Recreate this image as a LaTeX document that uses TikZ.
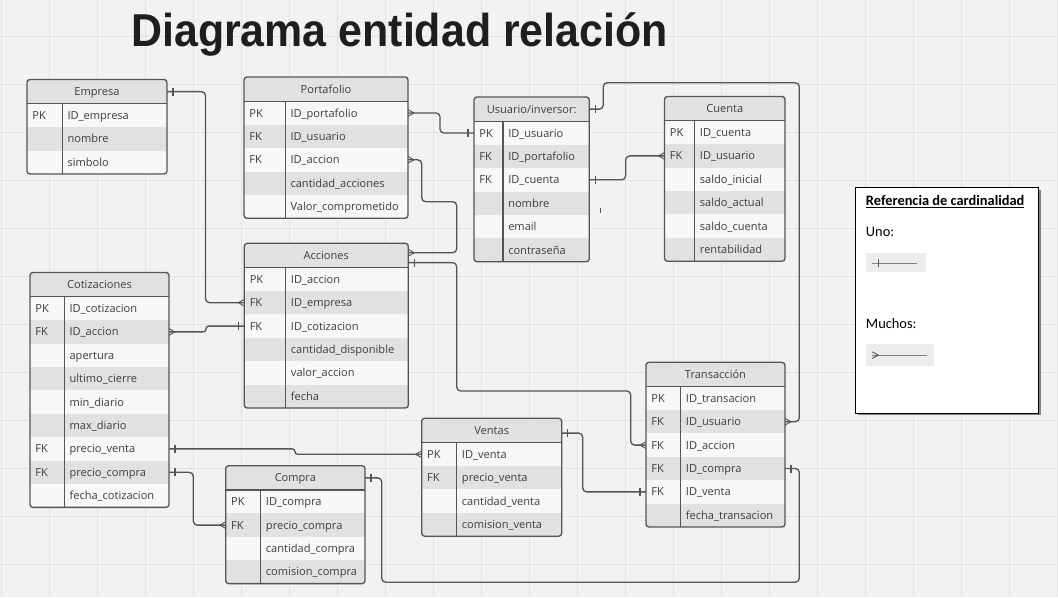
\documentclass[tikz,border=0pt]{standalone}
\usepackage{fontspec}
\setmainfont{Open Sans}
\newfontfamily\legendfont{Carlito}
\newfontfamily\titlefont{Liberation Sans}
\usetikzlibrary{calc,positioning,shadows,decorations.markings}
\definecolor{paper}{RGB}{242,242,242}
\definecolor{gridline}{RGB}{226,226,226}
\definecolor{rowlight}{RGB}{247,247,247}
\definecolor{rowdark}{RGB}{225,225,225}
\definecolor{erdraw}{RGB}{85,85,85}
\definecolor{ertext}{RGB}{62,62,62}
\definecolor{samplebg}{RGB}{236,236,236}
\tikzset{
  erhead/.style ={rectangle, fill=rowdark, inner sep=0pt, outer sep=0pt, text height=6pt, text depth=0pt,
                  minimum height=18.2pt, text=ertext, font=\fontsize{8.3}{10}\selectfont},
  errow/.style  ={rectangle, inner sep=0pt, outer sep=0pt, minimum height=17.55pt},
  erkey/.style  ={anchor=west, inner sep=0pt, text height=6pt, text depth=0pt, text=ertext,
                  font=\fontsize{8.3}{10}\selectfont},
  erfield/.style={erkey},
  erframe/.style={draw=erdraw, line width=1pt, rounded corners=2.2pt},
  erlink/.style ={draw=erdraw, line width=1pt, rounded corners=3pt},
  onestart/.style ={postaction={decorate, decoration={markings, mark=at position 4.5pt with
                    {\draw[erdraw, line width=0.9pt, sharp corners] (0,-3pt) -- (0,3pt);}}}},
  oneend/.style   ={postaction={decorate, decoration={markings, mark=at position -4.5pt with
                    {\draw[erdraw, line width=0.9pt, sharp corners] (0,-3pt) -- (0,3pt);}}}},
  manystart/.style={postaction={decorate, decoration={markings, mark=at position 0pt with
                    {\draw[erdraw, line width=0.7pt, sharp corners] (0,2.5pt) -- (4.5pt,0) -- (0,-2.5pt);}}}},
  manyend/.style  ={postaction={decorate, decoration={markings, mark=at position -0.01pt with
                    {\draw[erdraw, line width=0.7pt, sharp corners] (0,2.5pt) -- (-4.5pt,0) -- (0,-2.5pt);}}}},
  legendbox/.style={rectangle, fill=white, draw=black, line width=0.8pt, inner sep=0pt,
                    drop shadow={shadow xshift=1.3pt, shadow yshift=-1.3pt, fill=black, opacity=0.45}},
  legendtext/.style={anchor=west, inner sep=0pt, font=\legendfont\fontsize{10.8}{13}\selectfont},
  samplebox/.style={rectangle, fill=samplebg, inner sep=0pt, anchor=north west},
  samplelink/.style={draw=gray, line width=0.8pt},
}
% #1 name, #2 left, #3 top, #4 width, #5 key column, #6 title, #7 rows
\newcommand{\ertable}[7]{%
  \foreach \k/\f [count=\n] in {#7} {\xdef\ernrows{\n}}
  \pgfmathsetmacro{\erbottom}{#3+24.3+23.4*\ernrows}
  \begin{scope}
    \clip[rounded corners=2.2pt] (#2,#3) rectangle (#2+#4,\erbottom);
    \node[erhead, minimum width=#4*0.75pt, anchor=north west] (#1-h) at (#2,#3) {#6};
    \foreach \k/\f [count=\i] in {#7} {
      \pgfmathsetmacro{\ery}{#3+24.3+23.4*(\i-1)}
      \ifodd\i \def\erfill{rowlight}\else\def\erfill{rowdark}\fi
      \node[errow, fill=\erfill, minimum width=#4*0.75pt, anchor=north west] (#1-\i) at (#2,\ery) {};
      \node[erkey] at ([xshift=3.9pt]#1-\i.west) {\k};
      \node[erfield] at (#2+#5+5,\ery+11.7) {\f};
    }
  \end{scope}
  \draw[erframe] (#2,#3) rectangle (#2+#4,\erbottom);
  \draw[erdraw, line width=1pt] (#1-h.south west) -- (#1-h.south east);
  \draw[erdraw, line width=1pt] (#2+#5,#3+24.3) -- (#2+#5,\erbottom);
}

\begin{document}
\begin{tikzpicture}[x=0.75pt, y=-0.75pt]
  % background and grid
  \fill[paper] (0,0) rectangle (1058,597);
  \useasboundingbox (0,0) rectangle (1058,597);
  \foreach \gx in {1,49,...,1057} \draw[gridline, line width=0.75pt] (\gx,0) -- (\gx,597);
  \foreach \gy in {36,84,...,597} \draw[gridline, line width=0.75pt] (0,\gy) -- (1058,\gy);

  \node[anchor=base west, inner sep=0pt, text={rgb,255:red,30;green,30;blue,30},
        font=\titlefont\bfseries\fontsize{34.6}{40}\selectfont] (titulo) at (131,46)
        {\scalebox{0.93}[1]{Diagrama entidad relación}};

  % tables
  \ertable{emp}{27}{79.5}{140}{35.3}{Empresa}{PK/ID\_empresa, /nombre, /simbolo}
  \ertable{port}{244}{77}{164}{41.3}{Portafolio}{PK/ID\_portafolio, FK/ID\_usuario, FK/ID\_accion,
    /cantidad\_acciones, /Valor\_comprometido}
  \ertable{usr}{474}{97}{115.3}{29}{Usuario/inversor:}{PK/ID\_usuario, FK/ID\_portafolio, FK/ID\_cuenta,
    /nombre, /email, /contraseña}
  \ertable{cta}{664.5}{96.5}{120.5}{30.2}{Cuenta}{PK/ID\_cuenta, FK/ID\_usuario, /saldo\_inicial,
    /saldo\_actual, /saldo\_cuenta, /rentabilidad}
  \ertable{cot}{30}{272.5}{139}{34.3}{Cotizaciones}{PK/ID\_cotizacion, FK/ID\_accion, /apertura,
    /ultimo\_cierre, /min\_diario, /max\_diario, FK/precio\_venta, FK/precio\_compra, /fecha\_cotizacion}
  \ertable{acc}{244.3}{243.3}{164}{41.4}{Acciones}{PK/ID\_accion, FK/ID\_empresa, FK/ID\_cotizacion,
    /cantidad\_disponible, /valor\_accion, /fecha}
  \ertable{ven}{421.7}{418.3}{140}{35}{Ventas}{PK/ID\_venta, FK/precio\_venta, /cantidad\_venta,
    /comision\_venta}
  \ertable{com}{225.7}{465.7}{139.3}{35}{Compra}{PK/ID\_compra, FK/precio\_compra, /cantidad\_compra,
    /comision\_compra}
  \ertable{tra}{646}{362.3}{139}{34.7}{Transacción}{PK/ID\_transacion, FK/ID\_usuario, FK/ID\_accion,
    FK/ID\_compra, FK/ID\_venta, /fecha\_transacion}

  % relations
  \draw[erlink, onestart, manyend] (emp-h.east) -- ++(38.5,0) |- (acc-2.west);
  \draw[erlink, manystart, oneend] (port-1.east) -- ++(32,0) |- (usr-1.west);
  \draw[erlink, manystart, manyend] (port-3.east) -- ++(13.7,0) -- ++(0,41.9) -- ++(35,0)
    |- ([yshift=2pt]acc-h.east);
  \draw[erlink, onestart, manyend] ([yshift=-5.4pt]acc-h.east) -- ++(48.4,0) |- ++(174,128.3)
    |- (tra-3.west);
  \draw[erlink, onestart, manyend] (usr-h.east) -- ++(14,0) |- ++(196,-26.4) |- (tra-2.east);
  \draw[erlink, onestart, manyend] (usr-3.east) -- ++(36.4,0) |- (cta-2.west);
  \draw[erlink, manystart, oneend, rounded corners=2pt] (cot-2.east) -- ++(37,0) |- (acc-3.west);
  \draw[erlink, onestart, manyend, rounded corners=2pt] (cot-7.east) -- ++(126,0) |- (ven-1.west);
  \draw[erlink, onestart, manyend] (cot-8.east) -- ++(24.3,0) |- (com-2.west);
  \draw[erlink, onestart, oneend] ([yshift=-2pt]ven-h.east) -- ++(21,0) |- (tra-5.west);
  \draw[erlink, onestart, oneend] (com-h.east) -- ++(16.7,0) |- ++(417.6,104.4) |- (tra-4.east);
  \draw[erdraw, line width=0.6pt] (600,208) -- (600,213);

  % legend
  \node[legendbox, minimum width=137.3pt, minimum height=169pt, anchor=north west] (leyenda) at (855.3,187.3) {};
  \node[legendtext, font=\legendfont\bfseries\fontsize{10.8}{13}\selectfont] (reftitulo) at (865.7,201.7)
    {\underline{Referencia de cardinalidad}};
  \node[legendtext] (uno) at (865.7,231.7) {Uno:};
  \node[samplebox, minimum width=45pt, minimum height=14.2pt] (unoej) at (865.7,252.3) {};
  \draw[samplelink, onestart] ([xshift=4.9pt,yshift=-1pt]unoej.west) -- ([xshift=-6.8pt,yshift=-1pt]unoej.east);
  \node[legendtext] (muchos) at (865.7,324) {Muchos:};
  \node[samplebox, minimum width=51.2pt, minimum height=16.3pt] (muchosej) at (865.7,344) {};
  \draw[samplelink, manystart] ([xshift=4.9pt]muchosej.west) -- ([xshift=-5.5pt]muchosej.east);
\end{tikzpicture}
\end{document}
